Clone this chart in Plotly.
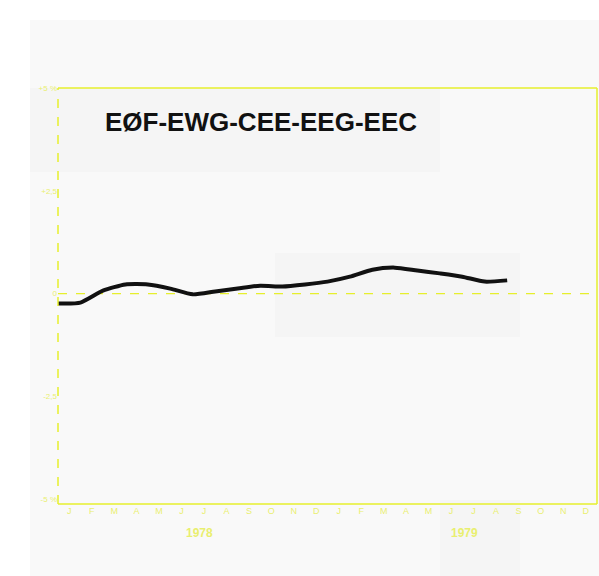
import plotly.graph_objects as go

# Data (month index: 0 = start of Jan 1978)
months_x = list(range(21))
values = [-0.24, -0.22, 0.07, 0.22, 0.22, 0.12, -0.02, 0.05, 0.12, 0.19, 0.17,
          0.22, 0.29, 0.41, 0.58, 0.63, 0.56, 0.49, 0.41, 0.29, 0.32]

month_letters = ["J", "F", "M", "A", "M", "J", "J", "A", "S", "O", "N", "D"] * 2
month_pos = [i + 0.5 for i in range(24)]
years = ["1978", "1979"]
year_pos = [6.3, 18.1]
y_ticks = [5, 2.5, 0, -2.5, -5]
y_ticktext = ["+5 %", "+2,5", "0", "-2,5", "-5 %"]
title_text = "EØF-EWG-CEE-EEG-EEC"

YEL = "#e6ef2c"
YEL_TXT = "#e9ef70"

fig = go.Figure()
fig.add_trace(go.Scatter(
    x=months_x, y=values, mode="lines",
    line=dict(color="#111111", width=4, shape="spline", smoothing=0.6),
    hoverinfo="skip", showlegend=False))


def px_rect(x0, y0, x1, y1, color):
    return dict(type="rect", xref="paper", yref="paper",
                x0=(x0 - 58) / 539, x1=(x1 - 58) / 539,
                y0=(504 - y1) / 416, y1=(504 - y0) / 416,
                fillcolor=color, line=dict(width=0), layer="below")


shapes = [px_rect(0, 0, 30, 576, "#ffffff"), px_rect(0, 0, 599, 20, "#ffffff")]
# faint scan patches
for (x0, y0, x1, y1) in [(30, 88, 440, 172), (275, 253, 520, 337), (440, 500, 520, 576)]:
    shapes.append(px_rect(x0, y0, x1, y1, "#f5f5f5"))
# frame
shapes.append(dict(type="line", xref="paper", yref="paper", x0=0, x1=1, y0=1, y1=1,
                   line=dict(color=YEL, width=1.5)))
shapes.append(dict(type="line", xref="paper", yref="paper", x0=0, x1=1, y0=0, y1=0,
                   line=dict(color=YEL, width=1.5)))
shapes.append(dict(type="line", xref="paper", yref="paper", x0=1, x1=1, y0=0, y1=1,
                   line=dict(color=YEL, width=1.5)))
shapes.append(dict(type="line", xref="paper", yref="paper", x0=0, x1=0, y0=0, y1=1,
                   line=dict(color=YEL, width=1.5, dash="dash")))
# zero line
shapes.append(dict(type="line", xref="paper", yref="y", x0=0, x1=1, y0=0, y1=0,
                   line=dict(color=YEL, width=1.2, dash="dash"), layer="below"))

annotations = [dict(text="<b>" + title_text + "</b>", x=(103 - 58) / 539, y=(504 - 122) / 416,
                    xref="paper", yref="paper", xanchor="left", yanchor="middle",
                    showarrow=False,
                    font=dict(family="Liberation Sans", size=26, color="#111111"))]
for yr, xp in zip(years, year_pos):
    annotations.append(dict(text="<b>" + yr + "</b>", x=xp, y=-0.07, xref="x", yref="paper",
                            yanchor="middle", showarrow=False,
                            font=dict(family="Liberation Sans", size=12, color=YEL_TXT)))

fig.update_layout(
    width=599, height=576,
    margin=dict(l=58, r=2, t=88, b=72),
    paper_bgcolor="#f9f9f9", plot_bgcolor="rgba(0,0,0,0)",
    shapes=shapes, annotations=annotations,
    xaxis=dict(range=[0, 24], tickvals=month_pos, ticktext=month_letters,
               showgrid=False, zeroline=False, showline=False, ticks="",
               tickfont=dict(family="Liberation Sans", size=9, color=YEL_TXT)),
    yaxis=dict(range=[-5.12, 5], tickvals=y_ticks, ticktext=y_ticktext,
               showgrid=False, zeroline=False, showline=False, ticks="",
               tickfont=dict(family="Liberation Sans", size=8, color=YEL_TXT)),
)
fig.write_html("out.html", config={"displayModeBar": False},
               post_script="document.body.style.margin='0';")
